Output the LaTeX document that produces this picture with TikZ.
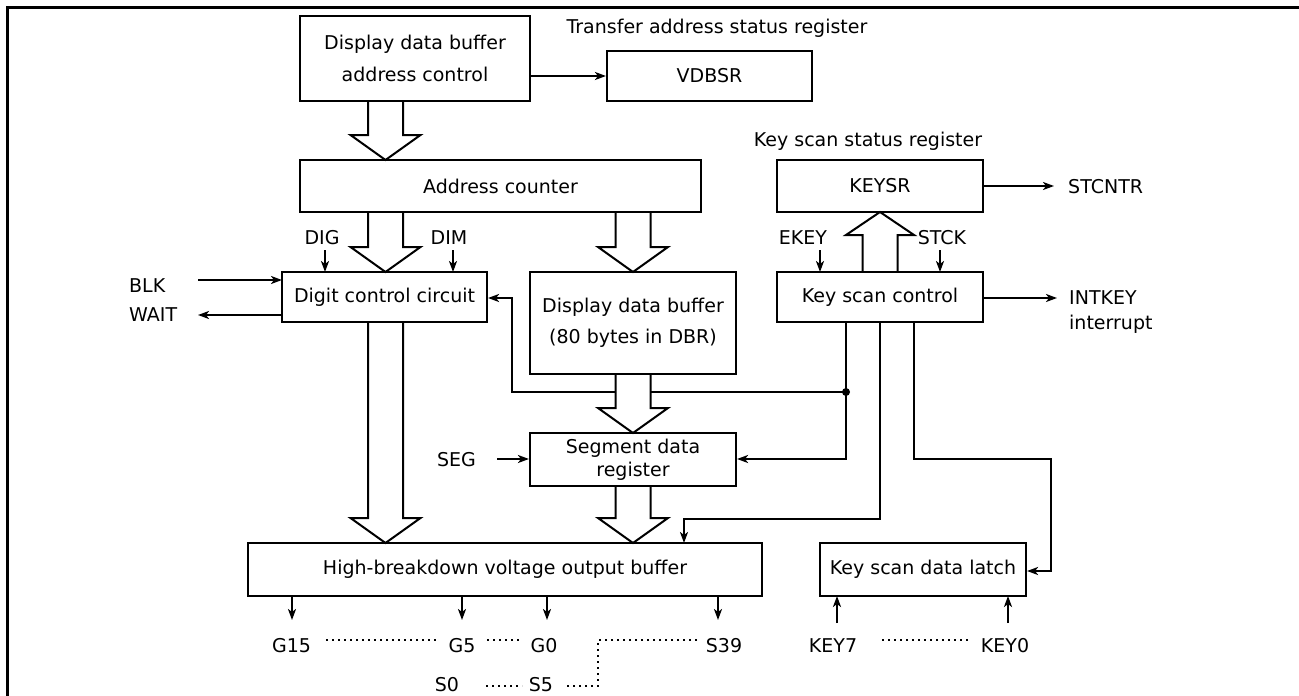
\documentclass[tikz,border=0pt]{standalone}
\usepackage{fontspec}
\setmainfont{DejaVu Sans}
\usetikzlibrary{arrows.meta,calc}
\newcommand{\diafont}{\fontsize{19}{32}\selectfont}
\newcommand{\hollowdown}[3]{%
  \fill[white] (#1-17.5,#2+1.4) -- (#1-17.5,#3-25) -- (#1-35,#3-25) -- (#1,#3) -- (#1+35,#3-25) -- (#1+17.5,#3-25) -- (#1+17.5,#2+1.4) -- cycle;
  \draw[line width=2pt] (#1-17.5,#2) -- (#1-17.5,#3-25) -- (#1-35,#3-25) -- (#1,#3) -- (#1+35,#3-25) -- (#1+17.5,#3-25) -- (#1+17.5,#2);}
\newcommand{\hollowup}[3]{%
  \fill[white] (#1-17.5,#2-1.4) -- (#1-17.5,#3+23) -- (#1-34,#3+23) -- (#1,#3) -- (#1+34,#3+23) -- (#1+17.5,#3+23) -- (#1+17.5,#2-1.4) -- cycle;
  \draw[line width=2pt] (#1-17.5,#2) -- (#1-17.5,#3+23) -- (#1-34,#3+23) -- (#1,#3) -- (#1+34,#3+23) -- (#1+17.5,#3+23) -- (#1+17.5,#2);}
\begin{document}
\begin{tikzpicture}[x=1pt,y=-1pt,
  box/.style={draw, line width=2.1pt, inner sep=0pt, align=center, font=\diafont},
  sig/.style={line width=2pt, -{Stealth[length=11pt,width=8pt,inset=3pt]}},
  lbl/.style={inner sep=0pt, font=\diafont},
  dots/.style={line width=1.8pt, dash pattern=on 1.6pt off 4.4pt},
]
\useasboundingbox (0,0) rectangle (1299,696);
\draw[line width=3pt] (7,696) -- (7,7) -- (1299,7);

% boxes
\node[box, minimum width=230pt, minimum height=85pt] (dbac) at (415,58.5) {Display data buffer\\address control};
\node[box, minimum width=205pt, minimum height=50pt] (vdbsr) at (709.5,76) {VDBSR};
\node[box, minimum width=401pt, minimum height=52pt] (addr) at (500.5,186) {Address counter};
\node[box, minimum width=206pt, minimum height=52pt] (keysr) at (880,186) {KEYSR};
\node[box, minimum width=205pt, minimum height=50pt] (dcc) at (384.5,297) {Digit control circuit};
\node[box, minimum width=206pt, minimum height=102pt, font=\fontsize{19}{31}\selectfont] (ddb) at (633,323) {Display data buffer\\(80 bytes in DBR)};
\node[box, minimum width=206pt, minimum height=50pt] (ksc) at (880,297) {Key scan control};
\node[box, minimum width=206pt, minimum height=53pt, font=\fontsize{19}{23}\selectfont] (sdr) at (633,459.5) {Segment data\\register};
\node[box, minimum width=514pt, minimum height=53pt] (hbv) at (505,569.5) {High-breakdown voltage output buffer};
\node[box, minimum width=206pt, minimum height=53pt] (ksdl) at (923,569.5) {Key scan data latch};

% labels
\node[lbl, anchor=base] (tasr) at (717,34) {Transfer address status register};
\node[lbl, anchor=base] (kssr) at (868,146) {Key scan status register};
\node[lbl, anchor=base west] (stcntr) at (1068,193) {STCNTR};
\node[lbl, anchor=base] (dig) at (322,244) {DIG};
\node[lbl, anchor=base] (dim) at (449,244) {DIM};
\node[lbl, anchor=base west] (blk) at (129,292) {BLK};
\node[lbl, anchor=base west] (wait) at (129,321) {WAIT};
\node[lbl, anchor=base] (ekey) at (803,244) {EKEY};
\node[lbl, anchor=base] (stck) at (942,244) {STCK};
\node[lbl, anchor=base west] (intkey) at (1069,304) {INTKEY};
\node[lbl, anchor=base west] (intr) at (1069,329) {interrupt};
\node[lbl, anchor=base east] (seg) at (476,466) {SEG};
\node[lbl, anchor=base] (g15) at (291.5,652) {G15};
\node[lbl, anchor=base] (g5) at (462,652) {G5};
\node[lbl, anchor=base] (g0) at (544,652) {G0};
\node[lbl, anchor=base] (s39) at (724,652) {S39};
\node[lbl, anchor=base] (s0) at (447,691) {S0};
\node[lbl, anchor=base] (s5) at (541,691) {S5};
\node[lbl, anchor=base] (key7) at (833,652) {KEY7};
\node[lbl, anchor=base] (key0) at (1005,652) {KEY0};

% signal arrows
\draw[sig] (dbac.east |- vdbsr.west) -- (vdbsr.west);
\draw[sig] (keysr.east) -- (1054,186);
\draw[sig] (325,250) -- (325,272);
\draw[sig] (453,250) -- (453,272);
\draw[sig] (198,280) -- (282,280);
\draw[sig] (282,315) -- (198,315);
\draw[sig] (820,250) -- (820,272);
\draw[sig] (940,250) -- (940,272);
\draw[sig] (ksc.east |- 0,298) -- (1057,298);
\draw[sig] (497,459) -- (sdr.west |- 0,459);

% wires from key scan control
\draw[sig] (846,322) -- (846,459) -- (sdr.east |- 0,459);
\fill (846,392) circle (4);
\draw[sig] (846,392) -- (512,392) -- (512,298) -- (dcc.east |- 0,298);
\draw[sig] (880,322) -- (880,519) -- (684,519) -- (684,543);
\draw[sig] (914,322) -- (914,459) -- (1051,459) -- (1051,571) -- (ksdl.east |- 0,571);

% key inputs
\draw[sig] (837,623) -- (837,596);
\draw[sig] (1008,623) -- (1008,596);

% outputs
\draw[sig] (292,596) -- (292,620);
\draw[sig] (462,596) -- (462,620);
\draw[sig] (547,596) -- (547,620);
\draw[sig] (718,596) -- (718,620);

% dotted
\draw[dots] (326,640) -- (438,640);
\draw[dots] (487,640) -- (521,640);
\draw[dots] (697,640) -- (598,640) -- (598,686) -- (565,686);
\draw[dots] (486,686) -- (522,686);
\draw[dots] (882,640) -- (968,640);

% hollow bus arrows
\hollowdown{385.5}{101}{160}
\hollowdown{385.5}{212}{272}
\hollowdown{385.5}{322}{543}
\hollowdown{633}{212}{272}
\hollowdown{633}{374}{433}
\hollowdown{633}{486}{543}
\hollowup{880}{272}{212}
\end{tikzpicture}
\end{document}
